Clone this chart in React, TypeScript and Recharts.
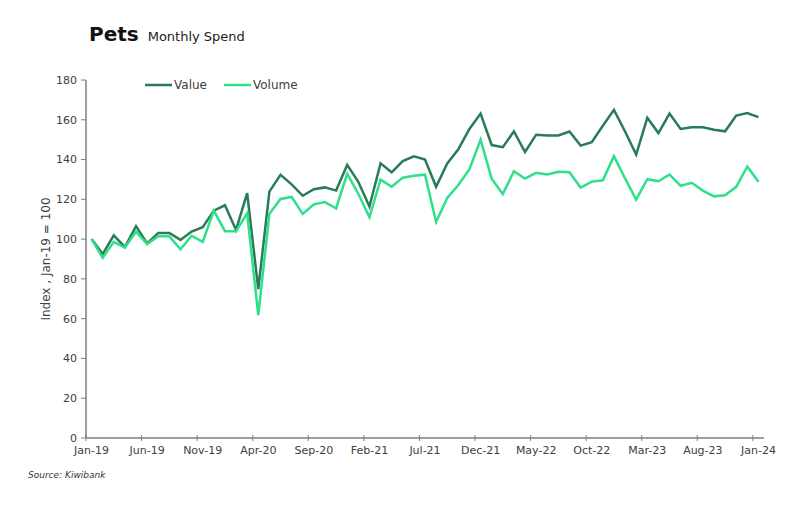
import React from "react";
import { LineChart, Line, XAxis, YAxis, Legend } from "recharts";

const categories = [
  "Jan-19","Feb-19","Mar-19","Apr-19","May-19","Jun-19","Jul-19","Aug-19","Sep-19","Oct-19","Nov-19","Dec-19",
  "Jan-20","Feb-20","Mar-20","Apr-20","May-20","Jun-20","Jul-20","Aug-20","Sep-20","Oct-20","Nov-20","Dec-20",
  "Jan-21","Feb-21","Mar-21","Apr-21","May-21","Jun-21","Jul-21","Aug-21","Sep-21","Oct-21","Nov-21","Dec-21",
  "Jan-22","Feb-22","Mar-22","Apr-22","May-22","Jun-22","Jul-22","Aug-22","Sep-22","Oct-22","Nov-22","Dec-22",
  "Jan-23","Feb-23","Mar-23","Apr-23","May-23","Jun-23","Jul-23","Aug-23","Sep-23","Oct-23","Nov-23","Dec-23",
  "Jan-24",
];

const valueSeries = [
  100, 92.5, 101.9, 96, 106.5, 97.8, 103.1, 103.1, 99.6, 103.8, 106, 114.3,
  117, 104.6, 123.1, 74.8, 123.9, 132.3, 127.5, 121.8, 125.1, 126, 124.4, 137.3,
  128.8, 116.4, 138.1, 133.6, 139.2, 141.6, 140, 126.3, 138, 145.2, 155.4, 163.1,
  147.3, 146.2, 154.2, 143.8, 152.5, 152.1, 152.1, 154.1, 147, 148.7, 157, 165,
  154.1, 142.5, 161, 153.3, 163.1, 155.4, 156.2, 156.2, 155, 154.2, 162.1, 163.4,
  161.3,
];

const volumeSeries = [
  100, 90.6, 98.6, 95.7, 103.8, 97.5, 101.4, 101.4, 94.9, 101.7, 98.6, 114.3,
  104, 104, 113, 61.8, 112.7, 120.2, 121.2, 112.7, 117.5, 118.6, 115.4, 132.8,
  122.8, 111, 129.9, 126.3, 130.9, 131.8, 132.4, 108.6, 120.7, 127.2, 135.2, 150,
  130.4, 122.6, 134.1, 130.4, 133.3, 132.5, 133.9, 133.6, 125.9, 128.9, 129.6, 141.7,
  130.5, 119.9, 130.1, 129.1, 132.5, 126.8, 128.3, 124.4, 121.5, 122, 126.3, 136.5,
  128.8,
];

const yTicks = [0, 20, 40, 60, 80, 100, 120, 140, 160, 180];

const seriesNames = { value: "Value", volume: "Volume" };
const COLORS = { value: "#2A7B58", volume: "#2EE08A" };
const AXIS_COLOR = "#7f7f7f";
const TEXT_COLOR = "#404040";
const FONT = "'DejaVu Sans', sans-serif";
const HALF_STEP = 5.56;

const data = categories.map((c, i) => ({
  month: c,
  value: valueSeries[i],
  volume: volumeSeries[i],
}));

const XTick = (props: any) => {
  const { x, y, payload } = props;
  const axisY = y - 8;
  return (
    <g>
      <line x1={x - HALF_STEP} x2={x - HALF_STEP} y1={axisY - 3} y2={axisY + 3} stroke={AXIS_COLOR} strokeWidth={1} />
      <text x={x} y={y} dy="0.71em" textAnchor="middle" fontSize={11} fontFamily={FONT} fill={TEXT_COLOR}>
        {payload.value}
      </text>
    </g>
  );
};

const LegendContent = () => (
  <div style={{ display: "flex", alignItems: "center", fontFamily: FONT, fontSize: 12, color: TEXT_COLOR }}>
    <svg width={27} height={10}>
      <line x1={0} x2={27} y1={5} y2={5} stroke={COLORS.value} strokeWidth={2.5} />
    </svg>
    <span style={{ marginLeft: 2 }}>{seriesNames.value}</span>
    <svg width={27} height={10} style={{ marginLeft: 17 }}>
      <line x1={0} x2={27} y1={5} y2={5} stroke={COLORS.volume} strokeWidth={2.5} />
    </svg>
    <span style={{ marginLeft: 2 }}>{seriesNames.volume}</span>
  </div>
);

export default function App() {
  return (
    <div style={{ position: "absolute", left: 0, top: 0, width: 800, height: 506, background: "#fff" }}>
      <div style={{ position: "absolute", left: 89, top: 22, fontFamily: FONT, color: "#111", whiteSpace: "nowrap" }}>
        <span style={{ fontSize: 20, fontWeight: "bold" }}>Pets</span>
        <span style={{ fontSize: 13, marginLeft: 9, color: "#222" }}>Monthly Spend</span>
      </div>
      <LineChart
        width={800}
        height={506}
        data={data}
        margin={{ top: 66, right: 36, left: 36, bottom: 38 }}
      >
        <XAxis
          dataKey="month"
          scale="point"
          interval={4}
          padding={{ left: HALF_STEP, right: HALF_STEP }}
          axisLine={{ stroke: AXIS_COLOR, strokeWidth: 1.5 }}
          tickLine={false}
          tickSize={5}
          tickMargin={3}
          height={30}
          tick={<XTick />}
        />
        <YAxis
          domain={[0, 180]}
          ticks={yTicks}
          width={50}
          interval={0}
          axisLine={{ stroke: AXIS_COLOR, strokeWidth: 1.5 }}
          tickLine={{ stroke: AXIS_COLOR }}
          tickSize={5}
          tickMargin={4}
          tick={{ fontSize: 11, fontFamily: FONT, fill: TEXT_COLOR }}
          label={{
            value: "Index , Jan-19 = 100",
            angle: -90,
            position: "insideLeft",
            offset: 0,
            dx: 10,
            style: { fontSize: 12, fontFamily: FONT, fill: TEXT_COLOR, textAnchor: "middle" },
          }}
        />
        <Legend
          verticalAlign="top"
          content={<LegendContent />}
          wrapperStyle={{ top: 78, left: 145, width: "auto" }}
        />
        <Line
          type="linear"
          dataKey="value"
          name={seriesNames.value}
          stroke={COLORS.value}
          strokeWidth={2.5}
          dot={false}
          isAnimationActive={false}
        />
        <Line
          type="linear"
          dataKey="volume"
          name={seriesNames.volume}
          stroke={COLORS.volume}
          strokeWidth={2.5}
          dot={false}
          isAnimationActive={false}
        />
      </LineChart>
      <div style={{ position: "absolute", left: 28, top: 470, fontFamily: FONT, fontSize: 9, fontStyle: "italic", color: "#333" }}>
        Source: Kiwibank
      </div>
    </div>
  );
}
